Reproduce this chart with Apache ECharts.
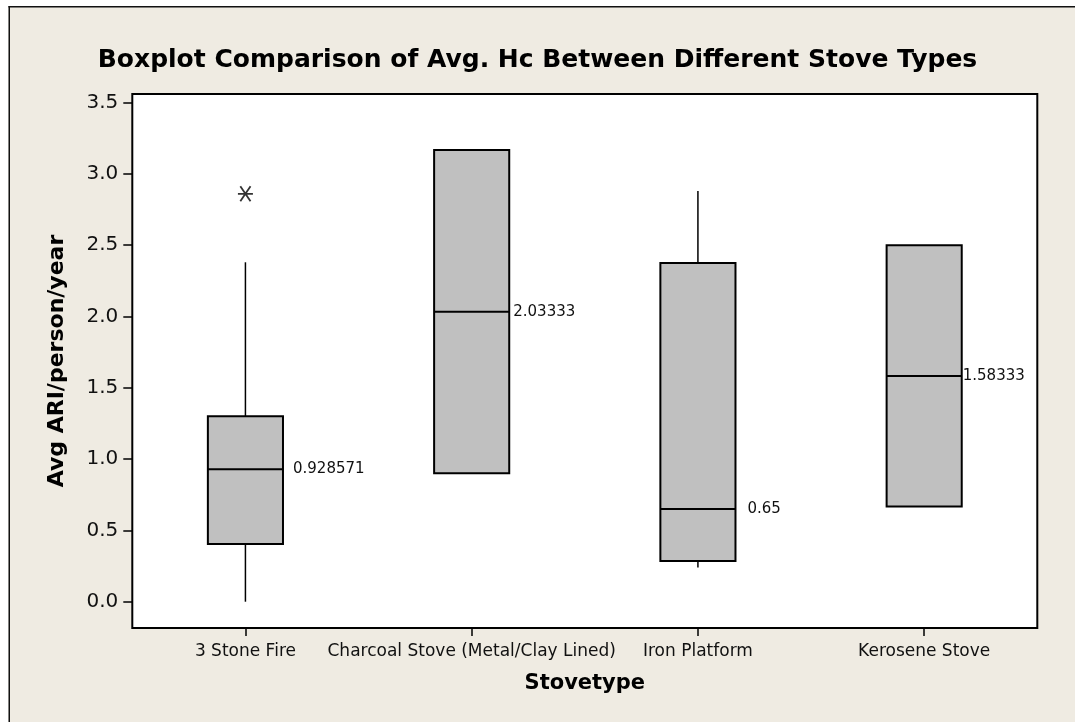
<!DOCTYPE html>
<html><head><meta charset="utf-8">
<script src="https://cdn.jsdelivr.net/npm/echarts@6/dist/echarts.min.js"></script>
<style>html,body{margin:0;padding:0;background:#fff}#c{width:1075px;height:722px}</style>
</head><body><div id="c"></div>
<script>
// ---- data ----
const categories = ['3 Stone Fire', 'Charcoal Stove (Metal/Clay Lined)', 'Iron Platform', 'Kerosene Stove'];
const whiskerLow  = [0.0,   0.9,     0.24,  0.6667];
const q1          = [0.405, 0.9,     0.285, 0.6667];
const median      = [0.928571, 2.03333, 0.65, 1.58333];
const q3          = [1.3,   3.16667, 2.375, 2.5];
const whiskerHigh = [2.38,  3.16667, 2.88,  2.5];
const outlierCategory = [0];
const outlierValue    = [2.86];
const yTicks = [0, 0.5, 1.0, 1.5, 2.0, 2.5, 3.0, 3.5];

// ---- style helpers ----
const medianLabelGap = [10, 4, 12, 1];
const FONT = "'DejaVu Sans', Verdana, sans-serif";

const boxData = categories.map((c, i) => [i, whiskerLow[i], q1[i], median[i], q3[i], whiskerHigh[i]]);
const outlierData = outlierCategory.map((c, i) => [c, outlierValue[i]]);

const chart = echarts.init(document.getElementById('c'), null, {renderer: 'canvas'});
chart.setOption({
  backgroundColor: '#EFEBE2',
  animation: false,
  title: {
    text: 'Boxplot Comparison of Avg. Hc Between Different Stove Types',
    left: 'center', top: 43,
    textStyle: {fontFamily: FONT, fontWeight: 'bold', fontSize: 25, color: '#000'}
  },
  graphic: [
    {type: 'rect', shape: {x: 0, y: 0, width: 1075, height: 6}, style: {fill: '#fff'}, silent: true},
    {type: 'rect', shape: {x: 0, y: 0, width: 8.5, height: 722}, style: {fill: '#fff'}, silent: true},
    {type: 'line', shape: {x1: 8.5, y1: 6.75, x2: 1075, y2: 6.75}, style: {stroke: '#111', lineWidth: 1.5}, silent: true},
    {type: 'line', shape: {x1: 9.25, y1: 6, x2: 9.25, y2: 722}, style: {stroke: '#111', lineWidth: 1.5}, silent: true}
  ],
  grid: {
    left: 132.3, right: 37.7, top: 94, bottom: 94,
    show: true, backgroundColor: '#fff', borderColor: '#000', borderWidth: 2
  },
  xAxis: {
    type: 'category',
    data: categories,
    boundaryGap: true,
    name: 'Stovetype', nameLocation: 'middle', nameGap: 45,
    nameTextStyle: {fontFamily: FONT, fontWeight: 'bold', fontSize: 21, color: '#000'},
    axisLine: {show: false, onZero: false},
    axisTick: {show: true, alignWithLabel: true, length: 8, lineStyle: {color: '#000', width: 1.5}},
    axisLabel: {interval: 0, fontFamily: FONT, fontSize: 17, color: '#111', margin: 15},
    splitLine: {show: false}
  },
  yAxis: {
    type: 'value',
    min: -0.1844, max: 3.56,
    name: 'Avg ARI/person/year', nameLocation: 'middle', nameGap: 64,
    nameTextStyle: {fontFamily: FONT, fontWeight: 'bold', fontSize: 22, color: '#000'},
    axisLine: {show: false},
    axisTick: {show: true, customValues: yTicks, length: 9, lineStyle: {color: '#000', width: 1.5}},
    axisLabel: {customValues: yTicks, formatter: v => Number(v).toFixed(1), fontFamily: FONT, fontSize: 20, color: '#111', margin: 14},
    splitLine: {show: false}
  },
  series: [
    {
      type: 'custom',
      data: boxData,
      encode: {x: 0, y: [1, 2, 3, 4, 5]},
      clip: false,
      renderItem: function (params, api) {
        const i = api.value(0);
        const band = api.size([1, 0])[0];
        const w = band * 0.332;
        const pLow = api.coord([i, api.value(1)]);
        const pQ1 = api.coord([i, api.value(2)]);
        const pMed = api.coord([i, api.value(3)]);
        const pQ3 = api.coord([i, api.value(4)]);
        const pHigh = api.coord([i, api.value(5)]);
        const cx = pMed[0];
        const gap = medianLabelGap[params.dataIndex] || 6;
        return {
          type: 'group',
          children: [
            {type: 'line', shape: {x1: cx, y1: pQ1[1], x2: cx, y2: pLow[1]}, style: {stroke: '#000', lineWidth: 1.5}},
            {type: 'line', shape: {x1: cx, y1: pQ3[1], x2: cx, y2: pHigh[1]}, style: {stroke: '#000', lineWidth: 1.5}},
            {type: 'rect', shape: {x: cx - w / 2, y: pQ3[1], width: w, height: pQ1[1] - pQ3[1]},
              style: {fill: '#C0C0C0', stroke: '#000', lineWidth: 2}},
            {type: 'line', shape: {x1: cx - w / 2, y1: pMed[1], x2: cx + w / 2, y2: pMed[1]}, style: {stroke: '#000', lineWidth: 2}},
            {type: 'text', x: cx + w / 2 + gap, y: pMed[1],
              style: {text: String(api.value(3)), fill: '#111', fontFamily: FONT, fontSize: 15, align: 'left', verticalAlign: 'middle'}}
          ]
        };
      }
    },
    {
      type: 'scatter',
      data: outlierData,
      symbol: 'path://M0,5 L10,5 M1.6,1.6 L8.4,8.4 M8.4,1.6 L1.6,8.4',
      symbolSize: 15,
      itemStyle: {color: 'rgba(0,0,0,0)', borderColor: '#000', borderWidth: 1.8},
      z: 5
    }
  ]
});
</script></body></html>
